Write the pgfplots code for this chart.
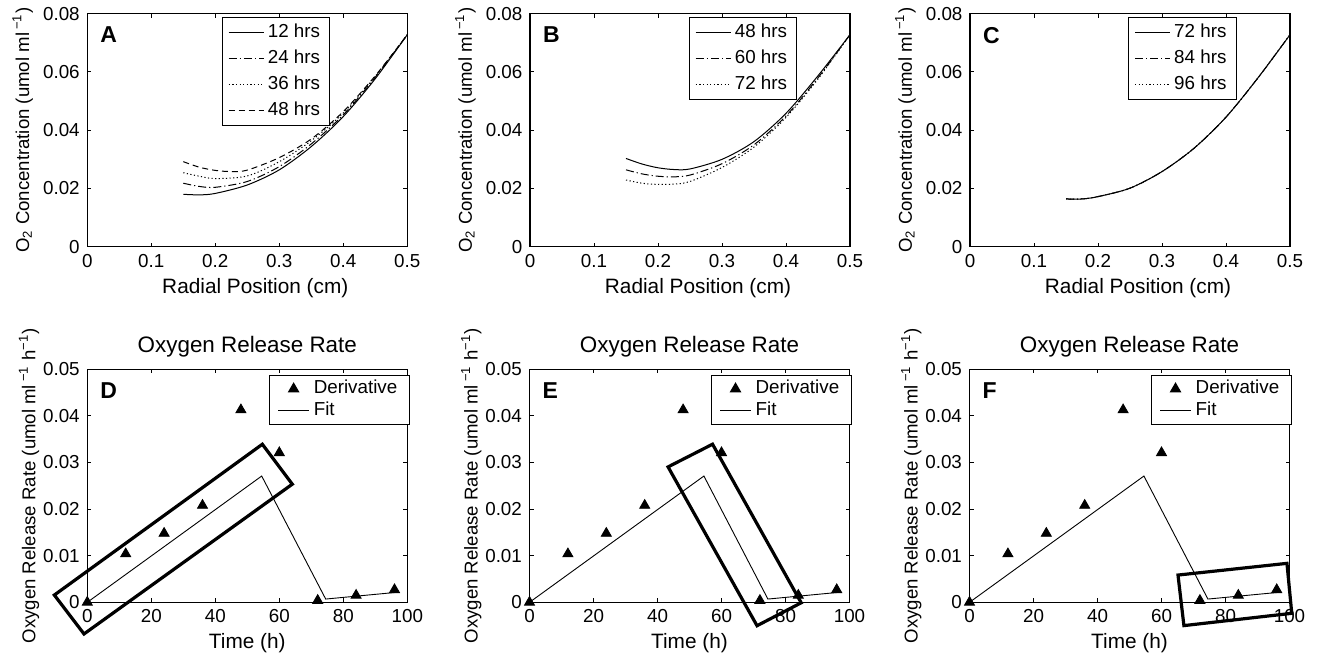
\documentclass[border=0pt]{standalone}
\usepackage{fontspec}
\setmainfont{Liberation Sans}
\usepackage{pgfplots}
\pgfplotsset{compat=1.18}

\newcommand\tickfont{\fontsize{9.4}{11}\selectfont}
\newcommand\labfont{\fontsize{10.4}{12}\selectfont}
\newcommand\ylabfont{\fontsize{9.3}{11}\selectfont}

\tikzset{letter/.style={font=\bfseries\fontsize{11.5}{12}\selectfont, anchor=north west, inner sep=0pt}}

\pgfplotsset{
  panel/.style={
    scale only axis, width=160pt, height=116.5pt,
    scaled x ticks=false, scaled y ticks=false,
    axis line style={line width=0.6pt},
    tick align=inside, tick pos=both, major tick length=2pt,
    tick style={line width=0.5pt, black},
    tick label style={font=\tickfont},
    yticklabel style={anchor=east, inner sep=0pt, xshift=-3.6pt},
    every axis x label/.style={at={(axis description cs:0.5,0)}, anchor=base, yshift=-23.3pt, font=\labfont},
    clip=false,
  },
  toprow/.style={
    panel,
    xmin=0, xmax=0.5, ymin=0, ymax=0.08,
    xtick={0,0.1,0.2,0.3,0.4,0.5}, xticklabels={0,0.1,0.2,0.3,0.4,0.5},
    ytick={0,0.02,0.04,0.06,0.08}, yticklabels={0,0.02,0.04,0.06,0.08},
    xticklabel style={anchor=base, inner sep=0pt, yshift=-10.6pt},
    xlabel={Radial Position (cm)},
    x label style={xshift=4pt},
    ylabel={O\textsubscript{2} Concentration (umol ml\,\textsuperscript{−1})},
    every axis y label/.style={at={(axis description cs:-0.182,0.5)}, rotate=90, anchor=base, font=\ylabfont},
    legend style={anchor=north west, font=\tickfont, draw=black, line width=0.5pt,
      inner xsep=3pt, inner ysep=1pt, row sep=0pt, cells={anchor=west},
      nodes={inner xsep=1.8pt, inner ysep=2pt, text height=7pt, text depth=2pt}},
    legend image code/.code={\draw[##1] (0pt,0pt) -- (17.5pt,0pt);},
  },
  botrow/.style={
    panel,
    xmin=0, xmax=100, ymin=0, ymax=0.05,
    xtick={0,20,40,60,80,100}, xticklabels={0,20,40,60,80,100},
    ytick={0,0.01,0.02,0.03,0.04,0.05}, yticklabels={0,0.01,0.02,0.03,0.04,0.05},
    xticklabel style={anchor=base, inner sep=0pt, yshift=-10pt},
    xlabel={Time (h)},
    ylabel={Oxygen Release Rate (umol ml\,\textsuperscript{−1} h\textsuperscript{−1})},
    every axis y label/.style={at={(axis description cs:-0.162,0.5)}, rotate=90, anchor=base, font=\ylabfont},
    title={Oxygen Release Rate},
    every axis title/.style={at={(axis description cs:0.5,1)}, anchor=base, yshift=8.35pt, font=\fontsize{11.2}{13}\selectfont},
    legend style={at={(0.569,0.977)}, anchor=north west, font=\tickfont, draw=black, line width=0.5pt,
      inner xsep=4pt, inner ysep=1.5pt, row sep=0pt, cells={anchor=west},
      nodes={inner xsep=2.2pt, inner ysep=0.9pt, text height=7pt, text depth=2pt}},
  },
  solidl/.style={black, line width=0.5pt, smooth},
  dashdotl/.style={black, line width=0.5pt, smooth, dash pattern=on 4pt off 1.5pt on 0.6pt off 1.5pt},
  dottedl/.style={black, line width=0.5pt, smooth, dash pattern=on 0.6pt off 1.2pt},
  dashedl/.style={black, line width=0.5pt, smooth, dash pattern=on 3pt off 2pt},
  deriv/.style={black, only marks, mark=triangle*, mark size=2.9pt,
    legend image code/.code={\path[draw=none,fill=none] (0pt,0pt) -- (15.3pt,0pt); \draw[##1] plot coordinates {(7.65pt,0pt)};}},
  fitl/.style={black, line width=0.45pt,
    legend image code/.code={\draw[##1] (0pt,0pt) -- (15.3pt,0pt);}},
}

\pgfplotstableread{
t    r
0    0
12   0.0104
24   0.0148
36   0.0208
48   0.0413
60   0.0321
72   0.0004
84   0.0015
96   0.0027
}\derivtab

\pgfplotstableread{
t     r
0     0
54.5  0.0271
74.5  0.0007
96    0.0021
}\fittab

\begin{document}
\begin{tikzpicture}
\path[use as bounding box] (0pt,0pt) rectangle (662.5pt,-327pt);

% ---- A ----
\begin{axis}[toprow, at={(43.65pt,-123.35pt)}, anchor=south west,
  legend style={at={(0.42,0.985)}}]
  \addplot[solidl] coordinates {(0.15,0.0180)(0.175,0.0178)(0.2,0.0183)(0.25,0.0212)(0.3,0.0264)(0.35,0.0344)(0.4,0.0447)(0.45,0.0577)(0.5,0.0728)};
  \addplot[dashdotl] coordinates {(0.15,0.0218)(0.175,0.0207)(0.2,0.0204)(0.25,0.0224)(0.3,0.0275)(0.35,0.0353)(0.4,0.0453)(0.45,0.0582)(0.5,0.0728)};
  \addplot[dottedl] coordinates {(0.15,0.0254)(0.175,0.0242)(0.2,0.0234)(0.25,0.0243)(0.3,0.0292)(0.35,0.0364)(0.4,0.0459)(0.45,0.0585)(0.5,0.0728)};
  \addplot[dashedl] coordinates {(0.15,0.0292)(0.175,0.0273)(0.2,0.0262)(0.225,0.0258)(0.25,0.0263)(0.3,0.0306)(0.35,0.0370)(0.4,0.0464)(0.45,0.0587)(0.5,0.0728)};
  \legend{12 hrs,24 hrs,36 hrs,48 hrs}
  \node[letter] at (rel axis cs:0.04,0.944) {A};
\end{axis}

% ---- B ----
\begin{axis}[toprow, at={(265pt,-123.35pt)}, anchor=south west,
  legend style={at={(0.496,0.985)}}]
  \addplot[solidl] coordinates {(0.15,0.0303)(0.175,0.0284)(0.2,0.0271)(0.225,0.0265)(0.25,0.0267)(0.3,0.0300)(0.35,0.0361)(0.4,0.0458)(0.45,0.0587)(0.5,0.0728)};
  \addplot[dashdotl] coordinates {(0.15,0.0264)(0.175,0.0250)(0.2,0.0242)(0.225,0.0240)(0.25,0.0246)(0.3,0.0285)(0.35,0.0350)(0.4,0.0449)(0.45,0.0580)(0.5,0.0728)};
  \addplot[dottedl] coordinates {(0.15,0.0229)(0.175,0.0218)(0.2,0.0214)(0.225,0.0215)(0.25,0.0224)(0.3,0.0272)(0.35,0.0342)(0.4,0.0444)(0.45,0.0576)(0.5,0.0728)};
  \legend{48 hrs,60 hrs,72 hrs}
  \node[letter] at (rel axis cs:0.04,0.944) {B};
\end{axis}

% ---- C ----
\begin{axis}[toprow, at={(485pt,-123.35pt)}, anchor=south west,
  legend style={at={(0.494,0.985)}}]
  \addplot[solidl] coordinates {(0.15,0.0164)(0.175,0.0164)(0.2,0.0172)(0.25,0.0201)(0.3,0.0258)(0.35,0.0338)(0.4,0.0445)(0.45,0.0580)(0.5,0.0728)};
  \addplot[dashdotl] coordinates {(0.15,0.0164)(0.175,0.0164)(0.2,0.0172)(0.25,0.0201)(0.3,0.0258)(0.35,0.0338)(0.4,0.0445)(0.45,0.0580)(0.5,0.0728)};
  \addplot[dottedl] coordinates {(0.15,0.0164)(0.175,0.0164)(0.2,0.0172)(0.25,0.0201)(0.3,0.0258)(0.35,0.0338)(0.4,0.0445)(0.45,0.0580)(0.5,0.0728)};
  \legend{72 hrs,84 hrs,96 hrs}
  \node[letter] at (rel axis cs:0.04,0.944) {C};
\end{axis}

% ---- D ----
\begin{axis}[botrow, at={(43.65pt,-301.15pt)}, anchor=south west]
  \addplot[deriv] table[x=t,y=r] {\derivtab};
  \addplot[fitl] table[x=t,y=r] {\fittab};
  \legend{Derivative,Fit}
  \node[letter] at (rel axis cs:0.04,0.944) {D};
  \draw[line width=1.6pt, line join=miter] (axis cs:-10.3,0.00156) -- (axis cs:-1.03,-0.00679) -- (axis cs:64.06,0.02535) -- (axis cs:54.7,0.03392) -- cycle;
\end{axis}

% ---- E ----
\begin{axis}[botrow, at={(264.75pt,-301.15pt)}, anchor=south west,
  legend style={at={(0.568,0.977)}}]
  \addplot[deriv] table[x=t,y=r] {\derivtab};
  \addplot[fitl] table[x=t,y=r] {\fittab};
  \legend{Derivative,Fit}
  \node[letter] at (rel axis cs:0.04,0.944) {E};
  \draw[line width=1.6pt, line join=miter] (axis cs:43.3,0.02906) -- (axis cs:71.1,-0.00502) -- (axis cs:84.9,-0.0001) -- (axis cs:57.2,0.03393) -- cycle;
\end{axis}

% ---- F ----
\begin{axis}[botrow, at={(484.75pt,-301.15pt)}, anchor=south west,
  legend style={at={(0.568,0.977)}}]
  \addplot[deriv] table[x=t,y=r] {\derivtab};
  \addplot[fitl] table[x=t,y=r] {\fittab};
  \legend{Derivative,Fit}
  \node[letter] at (rel axis cs:0.04,0.944) {F};
  \draw[line width=1.6pt, line join=miter] (axis cs:65.15,0.00585) -- (axis cs:67.0,-0.0050) -- (axis cs:100.7,-0.00236) -- (axis cs:99.2,0.00836) -- cycle;
\end{axis}
\end{tikzpicture}
\end{document}
